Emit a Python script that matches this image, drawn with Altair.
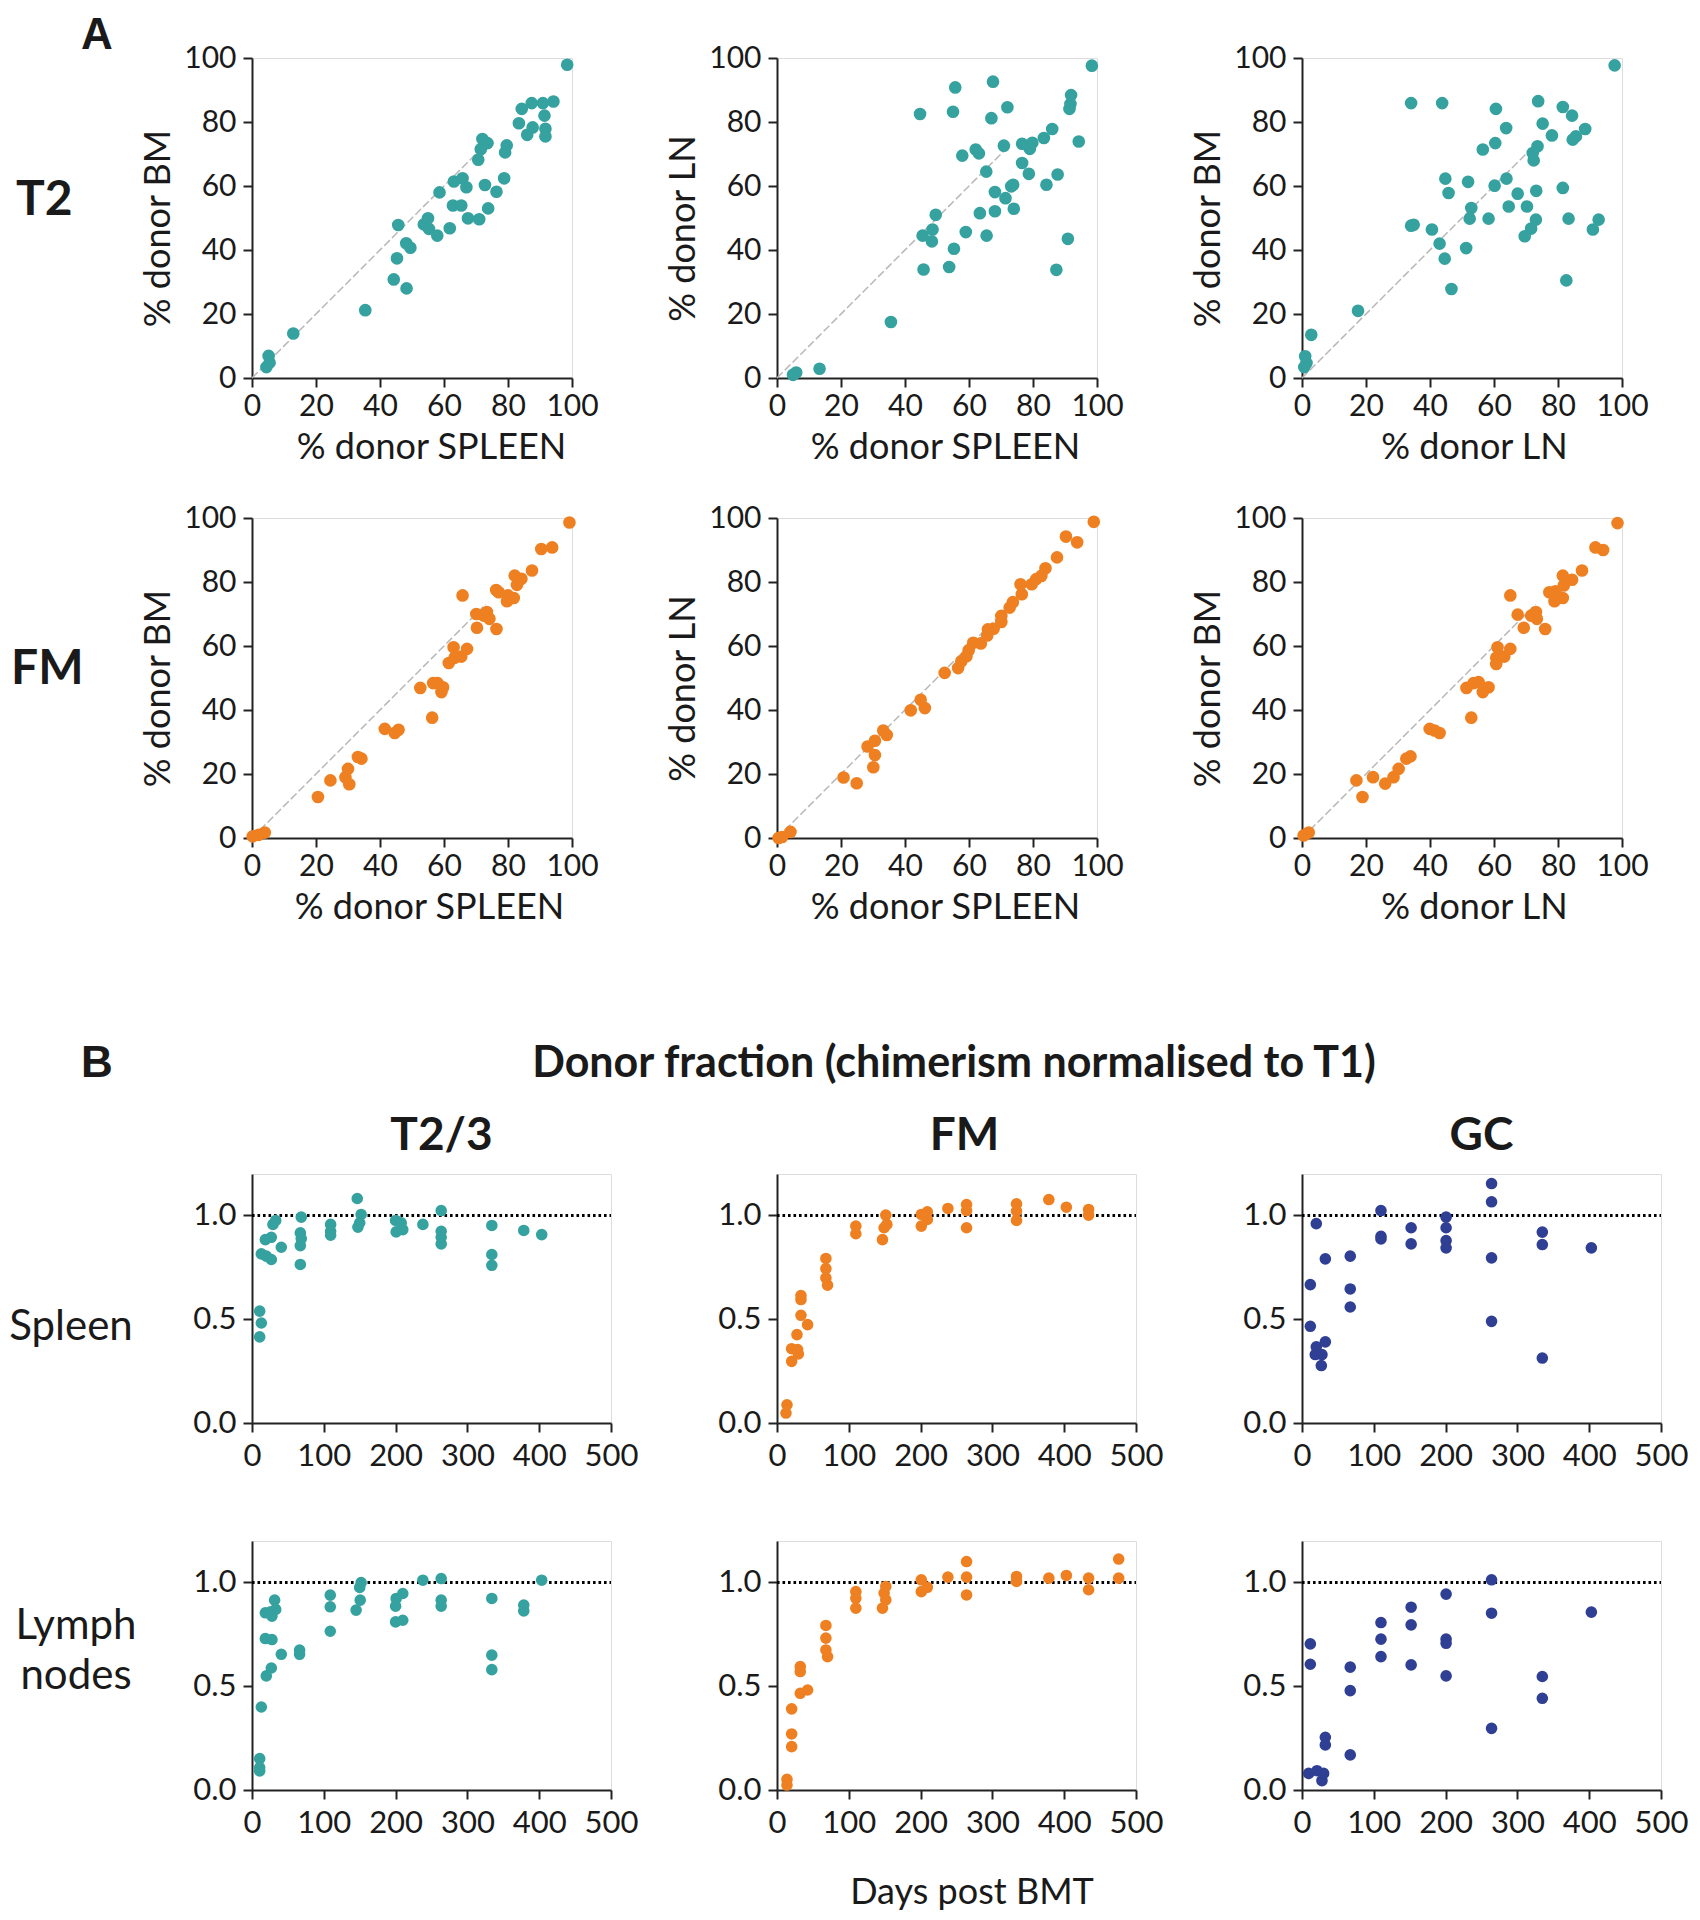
import altair as alt
import pandas as pd

FONT = "Lato"
TEAL = "#35a2a0"
ORANGE = "#ef8022"
NAVY = "#2f3f94"
INK = "#1a1a1a"

TOP_TICKS = [0, 20, 40, 60, 80, 100]
BOT_XTICKS = [0, 100, 200, 300, 400, 500]
BOT_YTICKS = [0.0, 0.5, 1.0]
DIAG = [0, 73]
REF_LEVEL = [1.0]

# ---------------- Panel A, T2 ----------------
t2_spl_bm_x = [98.5, 94.2, 90.9, 87.4, 84.3, 91.4, 83.4, 87.7, 91.7, 86.0, 91.7, 72.0, 73.6, 71.5, 79.6,
               79.1, 70.7, 78.8, 72.8, 76.4, 58.6, 63.1, 65.8, 67.0, 62.8, 65.4, 73.8, 67.5, 71.0, 55.0,
               53.7, 55.3, 57.9, 61.8, 45.7, 48.2, 49.5, 45.3, 44.3, 48.3, 35.4, 12.9, 5.2, 5.5, 4.5]
t2_spl_bm_y = [97.9, 86.4, 85.9, 85.9, 84.1, 82.0, 79.6, 78.3, 77.9, 76.0, 75.5, 74.7, 73.4, 71.5, 72.7,
               70.5, 68.2, 62.4, 60.3, 58.2, 58.0, 61.4, 62.4, 59.6, 53.9, 53.9, 53.0, 49.9, 49.6, 49.9,
               48.0, 46.6, 44.5, 46.8, 47.8, 42.1, 40.7, 37.4, 30.8, 28.0, 21.2, 13.9, 6.9, 4.8, 3.4]

t2_spl_ln_x = [98.4, 67.5, 55.7, 91.9, 91.7, 91.4, 72.0, 44.7, 55.0, 67.0, 86.0, 83.4, 94.3, 70.9, 76.6,
               79.8, 79.0, 62.1, 63.1, 57.9, 65.4, 76.6, 78.7, 87.7, 84.2, 73.2, 73.8, 68.1, 71.4, 74.0,
               68.1, 63.4, 49.6, 48.6, 45.5, 48.4, 59.0, 65.5, 55.3, 90.9, 45.8, 53.8, 87.3, 35.6, 13.3,
               6.0, 5.0]
t2_spl_ln_y = [97.6, 92.6, 90.8, 88.4, 85.6, 84.1, 84.6, 82.5, 83.2, 81.2, 77.8, 75.0, 73.9, 72.6, 73.2,
               73.5, 71.6, 71.4, 70.2, 69.5, 64.5, 67.2, 63.8, 63.6, 60.4, 59.9, 60.4, 58.1, 56.2, 52.9,
               52.1, 51.5, 51.0, 46.4, 44.5, 42.7, 45.6, 44.5, 40.4, 43.5, 33.9, 34.7, 33.8, 17.5, 2.9,
               1.7, 1.0]

t2_ln_bm_x = [97.7, 34.1, 43.8, 73.8, 60.6, 81.5, 84.4, 63.8, 75.2, 78.1, 88.5, 85.6, 84.6, 60.4, 56.5,
              73.6, 72.1, 72.4, 44.8, 51.9, 63.9, 60.2, 81.5, 45.8, 73.2, 67.4, 64.6, 70.3, 52.9, 52.4,
              58.3, 73.1, 83.3, 92.7, 90.9, 71.6, 69.6, 34.1, 34.9, 40.6, 43.0, 51.3, 44.6, 46.7, 82.6,
              17.5, 2.9, 1.0, 1.4, 0.7]
t2_ln_bm_y = [97.7, 85.9, 85.9, 86.5, 84.1, 84.7, 82.0, 78.1, 79.5, 75.8, 77.8, 75.5, 74.5, 73.4, 71.4,
              72.4, 70.3, 68.0, 62.3, 61.3, 62.3, 60.1, 59.4, 57.8, 58.5, 57.6, 53.6, 53.6, 53.1, 49.8,
              49.8, 49.5, 49.8, 49.5, 46.4, 46.7, 44.3, 47.6, 47.9, 46.4, 42.0, 40.6, 37.3, 27.8, 30.5,
              21.0, 13.5, 6.8, 4.7, 3.4]

# ---------------- Panel A, FM ----------------
fm_spl_bm_x = [99.2, 90.4, 93.8, 87.5, 82.1, 84.2, 82.8, 76.3, 77.1, 80.0, 81.8, 79.7, 65.8, 70.1, 73.4,
               72.4, 74.2, 70.3, 76.4, 63.0, 67.2, 65.4, 63.3, 61.5, 52.6, 56.6, 58.0, 59.7, 59.2, 56.3,
               41.5, 44.6, 45.8, 33.1, 34.2, 30.0, 29.2, 30.4, 24.5, 20.6, 4.0, 2.1, 0.2]
fm_spl_bm_y = [98.6, 90.3, 90.8, 83.6, 82.0, 81.0, 79.1, 77.5, 76.8, 75.8, 75.0, 74.0, 75.8, 70.0, 70.6,
               69.5, 68.5, 65.7, 65.3, 59.6, 59.1, 56.7, 56.3, 54.7, 46.9, 48.4, 48.4, 47.1, 45.6, 37.6,
               34.1, 32.8, 33.8, 25.3, 24.8, 21.6, 19.0, 16.8, 18.0, 12.8, 1.7, 1.0, 0.5]

fm_spl_ln_x = [99.0, 90.3, 93.8, 87.5, 83.9, 82.6, 81.0, 79.6, 76.1, 76.5, 73.7, 72.7, 70.1, 70.1, 67.7,
               65.9, 65.7, 63.7, 61.3, 59.9, 59.2, 57.6, 56.6, 52.4, 44.9, 46.2, 41.8, 33.2, 34.3, 28.3,
               30.6, 30.6, 30.1, 20.8, 24.9, 4.2, 1.6, 0.5]
fm_spl_ln_y = [98.8, 94.2, 92.4, 87.7, 84.3, 81.9, 80.9, 79.3, 79.3, 76.2, 73.7, 72.0, 69.4, 67.5, 65.4,
               65.2, 63.3, 60.8, 61.0, 58.7, 56.8, 55.2, 53.1, 51.6, 43.2, 40.6, 39.9, 33.6, 32.2, 28.6,
               30.4, 25.9, 22.1, 18.9, 17.1, 1.9, 0.3, 0.0]

fm_ln_bm_x = [98.6, 91.7, 94.1, 87.5, 81.5, 84.4, 81.8, 77.3, 79.2, 78.9, 81.5, 65.1, 67.4, 73.1, 71.6,
              73.4, 69.3, 76.0, 61.1, 65.1, 63.2, 60.7, 60.7, 51.4, 53.6, 55.2, 58.3, 56.5, 52.9, 39.9,
              43.0, 41.4, 32.6, 33.9, 30.2, 28.6, 26.0, 22.2, 17.0, 18.9, 2.1, 0.5]
fm_ln_bm_y = [98.4, 90.8, 90.0, 83.6, 82.0, 80.7, 78.9, 76.8, 77.1, 74.0, 75.0, 75.8, 69.8, 70.6, 69.5,
              68.5, 65.7, 65.3, 59.6, 59.1, 56.7, 56.3, 54.4, 46.9, 48.4, 48.7, 47.1, 45.6, 37.6, 34.1,
              32.8, 33.6, 24.8, 25.5, 21.6, 19.0, 17.0, 19.0, 18.0, 12.8, 1.7, 0.8]

# ---------------- Panel B, Spleen ----------------
t23_spl_day = [10.7, 13.0, 10.7, 13.0, 19.9, 26.9, 18.6, 26.9, 29.2, 33.0, 40.8, 68.6, 67.3, 68.6, 67.3,
               67.3, 109.5, 109.5, 109.5, 146.6, 152.0, 150.0, 147.5, 200.0, 207.8, 200.8, 210.0, 238.0,
               263.5, 263.5, 263.5, 263.5, 334.0, 334.0, 334.0, 378.5, 403.5]
t23_spl_frac = [0.539, 0.482, 0.415, 0.815, 0.804, 0.788, 0.884, 0.895, 0.957, 0.976, 0.847, 0.992, 0.916,
                0.889, 0.855, 0.764, 0.957, 0.924, 0.905, 1.082, 1.005, 0.965, 0.944, 0.976, 0.965, 0.921,
                0.932, 0.957, 1.024, 0.924, 0.895, 0.863, 0.952, 0.812, 0.760, 0.928, 0.908]

fm_spl_day = [13.9, 12.5, 20.4, 20.4, 28.7, 27.8, 29.7, 33.4, 33.4, 33.4, 42.6, 68.1, 68.1, 68.1, 70.4,
              109.8, 109.8, 151.5, 149.2, 153.0, 146.9, 201.0, 209.4, 209.4, 201.0, 238.0, 264.0, 264.0,
              264.0, 333.6, 333.6, 333.6, 378.6, 403.0, 434.0, 434.0]
fm_spl_frac = [0.088, 0.048, 0.297, 0.358, 0.354, 0.426, 0.333, 0.519, 0.595, 0.614, 0.474, 0.793, 0.744,
               0.699, 0.664, 0.949, 0.912, 1.002, 0.941, 0.957, 0.884, 1.005, 1.018, 0.981, 0.949, 1.034,
               1.053, 1.024, 0.941, 1.056, 1.021, 0.976, 1.077, 1.040, 1.029, 1.002]

gc_spl_day = [19.9, 11.6, 11.6, 32.5, 19.9, 32.5, 27.8, 18.5, 26.9, 67.2, 67.2, 67.2, 110.0, 110.0, 110.0,
              152.0, 152.0, 200.7, 200.7, 200.7, 200.7, 264.0, 264.0, 264.0, 264.0, 334.7, 334.7, 334.7,
              403.0]
gc_spl_frac = [0.961, 0.667, 0.466, 0.791, 0.367, 0.391, 0.330, 0.330, 0.277, 0.804, 0.646, 0.559, 1.024,
               0.900, 0.887, 0.941, 0.863, 0.992, 0.941, 0.879, 0.844, 1.154, 1.066, 0.796, 0.490, 0.920,
               0.860, 0.313, 0.844]

# ---------------- Panel B, Lymph nodes ----------------
t23_ln_day = [10.7, 10.7, 10.7, 13.0, 19.9, 26.9, 18.6, 27.8, 40.8, 18.6, 26.0, 27.8, 33.0, 31.5, 66.3,
              66.3, 109.0, 109.0, 109.0, 152.0, 150.0, 150.7, 145.0, 200.8, 210.0, 200.0, 200.0, 210.0,
              238.0, 263.5, 263.5, 263.5, 334.0, 334.0, 334.0, 378.5, 378.5, 403.5]
t23_ln_frac = [0.151, 0.108, 0.092, 0.400, 0.550, 0.588, 0.730, 0.725, 0.654, 0.854, 0.859, 0.838, 0.870,
               0.915, 0.674, 0.654, 0.939, 0.883, 0.765, 1.000, 0.976, 0.915, 0.867, 0.923, 0.947, 0.886,
               0.810, 0.818, 1.011, 1.019, 0.915, 0.886, 0.923, 0.650, 0.580, 0.891, 0.863, 1.011]

fm_ln_day = [13.9, 13.9, 20.4, 20.4, 20.4, 32.4, 42.6, 32.4, 32.4, 68.1, 68.1, 68.1, 70.4, 109.8, 109.8,
             109.8, 151.5, 149.2, 151.5, 146.9, 201.0, 209.4, 201.0, 238.0, 264.0, 264.0, 264.0, 333.6,
             333.6, 378.6, 403.0, 434.0, 434.0, 475.9, 475.9]
fm_ln_frac = [0.051, 0.024, 0.209, 0.270, 0.391, 0.466, 0.482, 0.571, 0.595, 0.793, 0.732, 0.675, 0.643,
              0.956, 0.924, 0.876, 0.981, 0.949, 0.916, 0.876, 1.013, 0.977, 0.956, 1.026, 1.101, 1.026,
              0.940, 1.029, 1.005, 1.021, 1.034, 1.021, 0.965, 1.113, 1.021]

gc_ln_day = [11.6, 11.6, 9.3, 20.9, 27.8, 30.1, 32.5, 32.5, 67.2, 67.2, 67.2, 110.0, 110.0, 110.0, 152.0,
             152.0, 152.0, 200.7, 200.7, 200.7, 200.7, 264.0, 264.0, 264.0, 334.7, 334.7, 403.0]
gc_ln_frac = [0.704, 0.606, 0.080, 0.093, 0.045, 0.080, 0.254, 0.217, 0.592, 0.479, 0.169, 0.807, 0.727,
              0.643, 0.881, 0.796, 0.603, 0.944, 0.727, 0.707, 0.550, 1.013, 0.852, 0.297, 0.547, 0.442,
              0.857]

TOP_W, TOP_H = 320, 320
BOT_W, BOT_H = 359, 249


def axis(values, title, fmt=None, label_pad=5, title_pad=8, label_size=30, title_size=36,
         title_x=None, title_y=None):
    kw = dict(values=values, title=title, grid=False,
              labelFont=FONT, labelFontSize=label_size, labelColor=INK, labelPadding=label_pad,
              labelFlush=False, labelOverlap=False,
              titleFont=FONT, titleFontSize=title_size, titleFontWeight="normal", titleColor=INK,
              titlePadding=title_pad,
              domainColor="#222222", domainWidth=2, tickColor="#222222", tickWidth=2, tickSize=9)
    if fmt:
        kw["format"] = fmt
    if title_x is not None:
        kw["titleX"] = title_x
    if title_y is not None:
        kw["titleY"] = title_y
    return alt.Axis(**kw)


def text_layer(txt, x, y, size, weight="normal", align="left", font=FONT, baseline="middle",
               line_height=None):
    return alt.Chart(pd.DataFrame({"t": [txt]})).mark_text(
        font=font, fontSize=size, fontWeight=weight, align=align, baseline=baseline,
        color=INK, lineBreak="\n", lineHeight=line_height if line_height else size * 1.2
    ).encode(x=alt.value(x), y=alt.value(y), text="t:N")


def top_panel(xs, ys, color, xt, yt, extras=(), xt_shift=12):
    xa = axis(TOP_TICKS, xt, label_pad=4, title_pad=9, title_x=TOP_W / 2 + xt_shift)
    ya = axis(TOP_TICKS, yt, label_pad=7, title_pad=6, title_y=TOP_H / 2 + 10)
    xs_ = alt.Scale(domain=[0, 100], nice=False)
    ys_ = alt.Scale(domain=[0, 100], nice=False)
    diag = alt.Chart(pd.DataFrame({"x": DIAG, "y": DIAG})).mark_line(
        color="#b8b8b8", strokeWidth=1.5, strokeDash=[8, 3]
    ).encode(x=alt.X("x:Q", scale=xs_, axis=xa), y=alt.Y("y:Q", scale=ys_, axis=ya))
    pts = alt.Chart(pd.DataFrame({"x": xs, "y": ys})).mark_circle(
        size=160, color=color, opacity=1
    ).encode(x=alt.X("x:Q", scale=xs_, axis=xa), y=alt.Y("y:Q", scale=ys_, axis=ya))
    return alt.layer(diag, pts, *extras).properties(width=TOP_W, height=TOP_H)


def bot_panel(days, fr, color, extras=()):
    xa = axis(BOT_XTICKS, None, label_pad=9, label_size=31)
    ya = axis(BOT_YTICKS, None, fmt=".1f", label_pad=7, label_size=31)
    xs_ = alt.Scale(domain=[0, 500], nice=False)
    ys_ = alt.Scale(domain=[0, 1.2], nice=False)
    rule = alt.Chart(pd.DataFrame({"x": [0], "x2": [500], "y": REF_LEVEL})).mark_rule(
        color="#000000", strokeWidth=2.8, strokeDash=[2.6, 2.9]
    ).encode(x=alt.X("x:Q", scale=xs_, axis=xa), x2="x2:Q", y=alt.Y("y:Q", scale=ys_, axis=ya))
    pts = alt.Chart(pd.DataFrame({"x": days, "y": fr})).mark_circle(
        size=135, color=color, opacity=1
    ).encode(x=alt.X("x:Q", scale=xs_, axis=xa), y=alt.Y("y:Q", scale=ys_, axis=ya))
    return alt.layer(rule, pts, *extras).properties(width=BOT_W, height=BOT_H)


def spacer(h):
    return alt.Chart(pd.DataFrame({"v": [0]})).mark_point(opacity=0).encode(
        x=alt.value(0), y=alt.value(0)
    ).properties(width=1, height=h,
                 view=alt.ViewBackground(strokeOpacity=0, strokeWidth=0, fillOpacity=0))


p1 = top_panel(t2_spl_bm_x, t2_spl_bm_y, TEAL, "% donor SPLEEN", "% donor BM", xt_shift=19, extras=(
    text_layer("A", -171, -44, 44, "bold", font="Liberation Sans", baseline="top"),
    text_layer("T2", -236, 143, 48, "bold"),
))
p2 = top_panel(t2_spl_ln_x, t2_spl_ln_y, TEAL, "% donor SPLEEN", "% donor LN", xt_shift=8)
p3 = top_panel(t2_ln_bm_x, t2_ln_bm_y, TEAL, "% donor LN", "% donor BM")

p4 = top_panel(fm_spl_bm_x, fm_spl_bm_y, ORANGE, "% donor SPLEEN", "% donor BM", xt_shift=17, extras=(
    text_layer("FM", -241, 152, 48, "bold"),
))
p5 = top_panel(fm_spl_ln_x, fm_spl_ln_y, ORANGE, "% donor SPLEEN", "% donor LN", xt_shift=8)
p6 = top_panel(fm_ln_bm_x, fm_ln_bm_y, ORANGE, "% donor LN", "% donor BM")

p7 = bot_panel(t23_spl_day, t23_spl_frac, TEAL, extras=(
    text_layer("B", -171, -110, 44, "bold", font="Liberation Sans"),
    text_layer("T2/3", BOT_W / 2 + 10, -38, 46, "bold", align="center"),
    text_layer("Spleen", -181, 153, 42, align="center"),
))
p8 = bot_panel(fm_spl_day, fm_spl_frac, ORANGE, extras=(
    text_layer("Donor fraction (chimerism normalised to T1)", 177, -110, 43, "bold", align="center"),
    text_layer("FM", BOT_W / 2 + 8, -38, 46, "bold", align="center"),
))
p9 = bot_panel(gc_spl_day, gc_spl_frac, NAVY, extras=(
    text_layer("GC", BOT_W / 2, -38, 46, "bold", align="center"),
))

p10 = bot_panel(t23_ln_day, t23_ln_frac, TEAL, extras=(
    text_layer("Lymph\nnodes", -176, 85, 42, align="center", line_height=50),
))
p11 = bot_panel(fm_ln_day, fm_ln_frac, ORANGE, extras=(
    text_layer("Days post BMT", 195, 352, 36, align="center"),
))
p12 = bot_panel(gc_ln_day, gc_ln_frac, NAVY)

cells = [p1, p2, p3,
         spacer(140), spacer(140), spacer(140),
         p4, p5, p6,
         spacer(336), spacer(336), spacer(336),
         p7, p8, p9,
         spacer(118), spacer(118), spacer(118),
         p10, p11, p12]

chart = alt.concat(*cells, columns=3, align="each", bounds="flush",
                   spacing={"row": 0, "column": 166}).properties(
    padding={"top": 5, "left": 0, "right": 0, "bottom": 0}
).configure_view(stroke=None).configure(background="white")

chart.save("out.html", embed_options={"renderer": "svg", "actions": False})
